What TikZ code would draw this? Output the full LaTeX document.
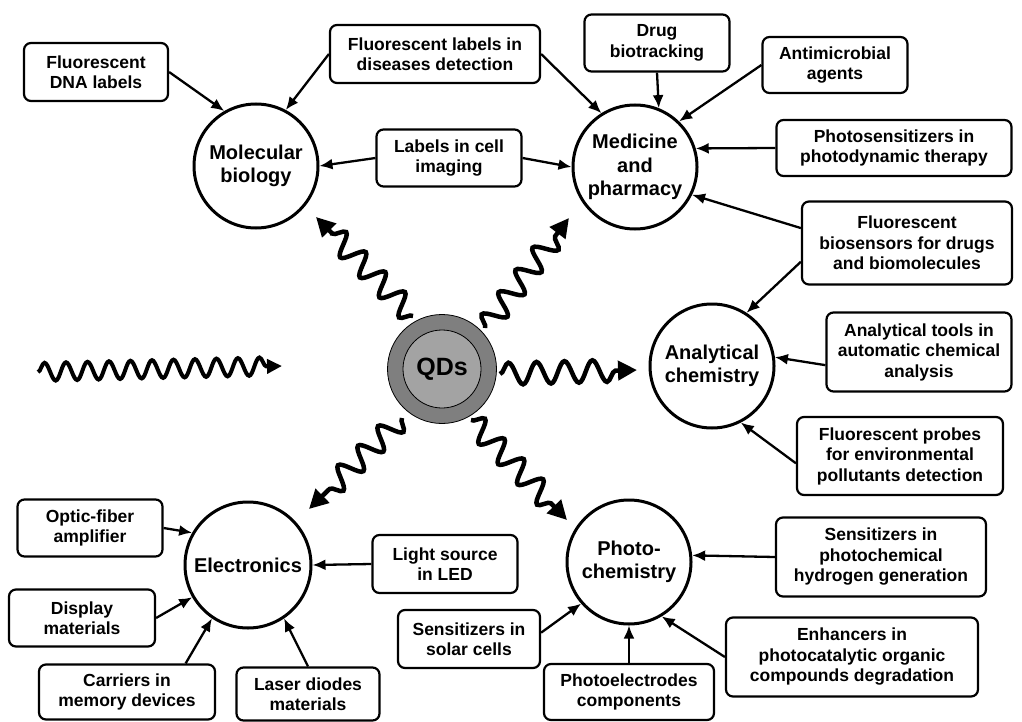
\documentclass[tikz,border=0pt]{standalone}
\usepackage{fontspec}
\setmainfont{Liberation Sans}
\usetikzlibrary{arrows.meta,decorations.pathmorphing,positioning}
\definecolor{qdouter}{HTML}{7F7F7F}
\definecolor{qdinner}{HTML}{A3A3A3}

\begin{document}
\begin{tikzpicture}[x=1pt, y=-1pt,
  box/.style={draw, line width=2.2pt, rounded corners=7pt, align=center,
              font=\bfseries\fontsize{17.5}{20.5}\selectfont, inner sep=2pt},
  topic/.style={circle, draw, line width=3pt, minimum size=124pt, align=center,
                inner sep=0pt, font=\bfseries\fontsize{20}{23.5}\selectfont},
  arr/.style={-{Latex[length=13pt, width=11pt]}, line width=2.3pt},
  wave/.style={line width=4.5pt, -{Triangle[length=19pt, width=19pt]}, decorate,
               decoration={snake, amplitude=11pt, segment length=28pt, post length=16pt}}
]
\useasboundingbox (0,0) rectangle (1022,722);

% central quantum dots
\node[circle, draw, line width=0.8pt, fill=qdouter, minimum size=109pt] (qd) at (442,369) {};
\node[circle, draw, line width=0.8pt, fill=qdinner, minimum size=78pt,
      font=\bfseries\fontsize{25}{28}\selectfont] (qdcore) at (qd) {QDs};

% fields of application
\node[topic] (molbio) at (256,166) {Molecular\\biology};
\node[topic] (med) at (635,167) {Medicine\\and\\pharmacy};
\node[topic] (ana) at (712,366) {Analytical\\chemistry};
\node[topic] (pchem) at (629,562) {Photo-\\chemistry};
\node[topic, minimum size=126pt] (elec) at (248,565) {Electronics};

% applications
\node[box, minimum width=144pt, minimum height=58pt] (dna) at (96,72) {Fluorescent\\DNA labels};
\node[box, minimum width=210pt, minimum height=58pt] (dis) at (435,54) {Fluorescent labels in\\diseases detection};
\node[box, minimum width=145pt, minimum height=57pt] (cell) at (449,158) {Labels in cell\\imaging};
\node[box, minimum width=145pt, minimum height=57pt] (drug) at (657,43) {Drug\\biotracking};
\node[box, minimum width=145pt, minimum height=56pt] (anti) at (835,65) {Antimicrobial\\agents};
\node[box, minimum width=235pt, minimum height=56pt] (pdt) at (894,148) {Photosensitizers in\\photodynamic therapy};
\node[box, minimum width=210pt, minimum height=83pt] (bios) at (907,243) {Fluorescent\\biosensors for drugs\\and biomolecules};
\node[box, minimum width=185pt, minimum height=79pt] (tools) at (919,352) {Analytical tools in\\automatic chemical\\analysis};
\node[box, minimum width=206pt, minimum height=78pt] (probes) at (900,456) {Fluorescent probes\\for environmental\\pollutants detection};
\node[box, minimum width=210pt, minimum height=79pt] (hyd) at (881,557) {Sensitizers in\\photochemical\\hydrogen generation};
\node[box, minimum width=252pt, minimum height=79pt] (enh) at (852,657) {Enhancers in\\photocatalytic organic\\compounds degradation};
\node[box, minimum width=170pt, minimum height=56pt] (pel) at (629,692) {Photoelectrodes\\components};
\node[box, minimum width=142pt, minimum height=58pt] (solar) at (469,639) {Sensitizers in\\solar cells};
\node[box, minimum width=145pt, minimum height=58pt] (led) at (445,564) {Light source\\in LED};
\node[box, minimum width=145pt, minimum height=57pt] (optic) at (90,528) {Optic-fiber\\amplifier};
\node[box, minimum width=146pt, minimum height=57pt] (disp) at (82,618) {Display\\materials};
\node[box, minimum width=176pt, minimum height=55pt] (carr) at (127,692) {Carriers in\\memory devices};
\node[box, minimum width=143pt, minimum height=53pt] (laser) at (308,694) {Laser diodes\\materials};

% links
\draw[arr] (dna.east) -- (molbio.120);
\draw[arr] (dis.west) -- (molbio.62);
\draw[arr] (cell.west) -- (molbio.east);
\draw[arr] (dis.east) -- (med.122);
\draw[arr] (cell.east) -- (med.west);
\draw[arr] (drug.south) -- (med.68);
\draw[arr] (anti.west) -- (med.46);
\draw[arr] (pdt.west) -- (med.17);
\draw[arr] (bios.172) -- (med.-26);
\draw[arr] (bios.190) -- (ana.57);
\draw[arr] (tools.188) -- (ana.8);
\draw[arr] (probes.184) -- (ana.-63);
\draw[arr] (hyd.west) -- (pchem.6);
\draw[arr] (enh.west) -- (pchem.-59);
\draw[arr] (pel.north) -- (pchem.south);
\draw[arr] (solar.5) -- (pchem.221);
\draw[arr] (led.west) -- (elec.east);
\draw[arr] (optic.east) -- (elec.150);
\draw[arr] (disp.east) -- (elec.210);
\draw[arr] (carr.26) -- (elec.236);
\draw[arr] (laser.north) -- (elec.-56);

% light in, emission out
\coordinate (lightin) at (38,372);
\coordinate (lightend) at (282,366);
\draw[wave, line width=4pt, -{Triangle[length=15pt, width=14pt]},
      decoration={amplitude=9pt, segment length=21.5pt, post length=15pt}] (lightin) -- (lightend);
\coordinate (w1) at (413,316);
\coordinate (w1e) at (316,217);
\coordinate (w2) at (485,328);
\coordinate (w2e) at (569,218);
\coordinate (w3) at (500,374);
\coordinate (w3e) at (637,370);
\coordinate (w4) at (402,418);
\coordinate (w4e) at (309,509);
\coordinate (w5) at (471,420);
\coordinate (w5e) at (567,520);
\draw[wave] (w1) -- (w1e);
\draw[wave] (w2) -- (w2e);
\draw[wave] (w3) -- (w3e);
\draw[wave] (w4) -- (w4e);
\draw[wave] (w5) -- (w5e);
\end{tikzpicture}
\end{document}
